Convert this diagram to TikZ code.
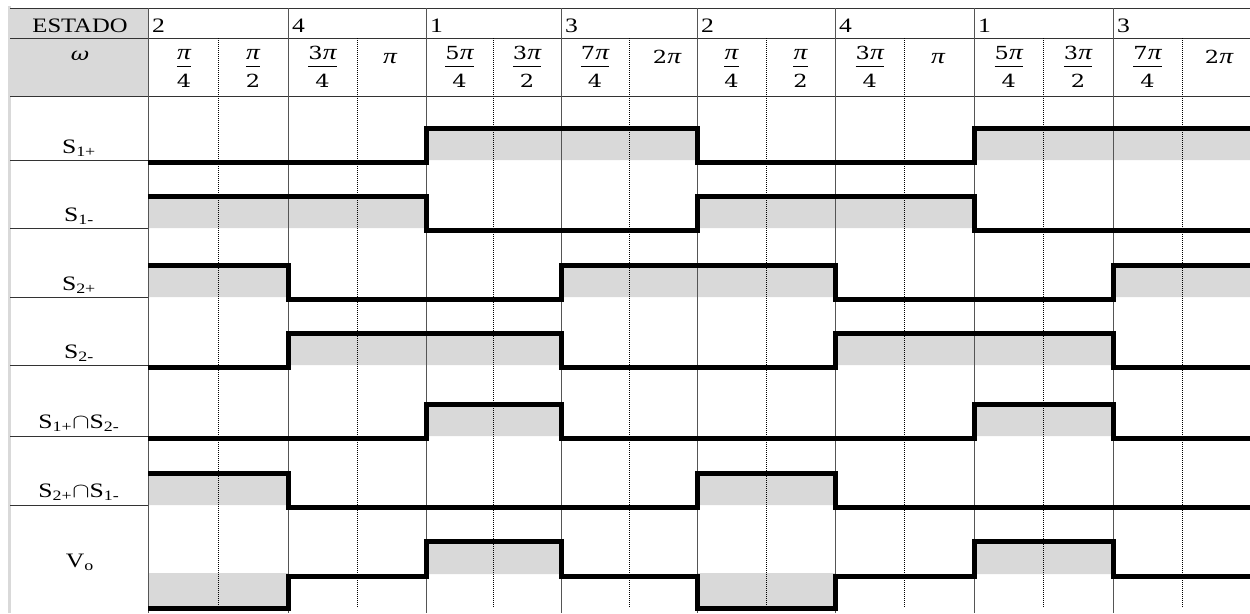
\documentclass[tikz,border=0pt]{standalone}
\usepackage{fontspec}
\setmainfont{Liberation Serif}
\newfontfamily\mf{DejaVu Serif}
\usepackage{graphicx}
\definecolor{shade}{HTML}{D9D9D9}
\definecolor{gridc}{HTML}{555555}
\newcommand\W[1]{\scalebox{1.25}[1]{#1}}
\newcommand\pp{{\rmfamily\itshape\fontsize{22}{24}\selectfont π}}
\newcommand\fr[2]{\W{\fontsize{18}{22}\selectfont$\displaystyle\frac{\mbox{\mf #1}}{\mbox{\mf\rule{0pt}{19pt}#2}}$}}
\tikzset{
  txt/.style={inner sep=0pt, font=\fontsize{20.5}{24}\selectfont},
  mtxt/.style={inner sep=0pt, font=\fontsize{18}{22}\selectfont\mf},
  gridline/.style={gridc, line width=1pt},
  hline/.style={black!80, line width=1pt},
  dotline/.style={black, line width=0.9pt, dash pattern=on 1pt off 1pt},
  sig/.style={black, line width=5pt, line join=miter},
  shaded/.style={fill=shade, draw=none}
}
\begin{document}
\begin{tikzpicture}[x=1pt,y=-1pt]
\useasboundingbox (0,0) rectangle (1250,613);
\clip (0,0) rectangle (1250,613);
\fill[white] (0,0) rectangle (1250,613);
% header shading
\fill[shaded] (10,8) rectangle (148,96);
% signal fills
\fill[shaded] (426,130) rectangle (697,160) (974,130) rectangle (1256,160);
\fill[shaded] (148,198) rectangle (426,228) (697,198) rectangle (974,228);
\fill[shaded] (148,267) rectangle (288,297) (561,267) rectangle (835,297) (1113,267) rectangle (1256,297);
\fill[shaded] (288,335) rectangle (561,365) (835,335) rectangle (1113,365);
\fill[shaded] (426,406) rectangle (561,436) (974,406) rectangle (1113,436);
\fill[shaded] (148,475) rectangle (288,505) (697,475) rectangle (835,505);
\fill[shaded] (426,543) rectangle (561,574) (974,543) rectangle (1113,574);
\fill[shaded] (148,573) rectangle (288,606) (697,573) rectangle (835,606);
% left light border
\draw[black!15, line width=2.5pt] (9.5,6) -- (9.5,613);
% header horizontal lines
\draw[hline] (10,8) -- (1256,8);
\draw[hline] (10,38) -- (1256,38);
\draw[hline] (10,96) -- (1256,96);
% label column row lines
\foreach \yy in {160,228,297,365,436,505} \draw[hline] (10,\yy) -- (148,\yy);
% dotted verticals
\foreach \xx in {218,357,493.5,629,766,904.5,1043.5,1182} \draw[dotline] (\xx,38) -- (\xx,607);
% solid verticals
\foreach \xx in {148,288,426,561,697,835,974,1113,1251} \draw[gridline] (\xx,8) -- (\xx,613);
% signals
\draw[sig] (148,162) -- (426,162) -- (426,128) -- (697,128) -- (697,162) -- (974,162) -- (974,128) -- (1258,128);
\draw[sig] (148,196) -- (426,196) -- (426,230) -- (697,230) -- (697,196) -- (974,196) -- (974,230) -- (1258,230);
\draw[sig] (148,265) -- (288,265) -- (288,299) -- (561,299) -- (561,265) -- (835,265) -- (835,299) -- (1113,299) -- (1113,265) -- (1258,265);
\draw[sig] (148,367) -- (288,367) -- (288,333) -- (561,333) -- (561,367) -- (835,367) -- (835,333) -- (1113,333) -- (1113,367) -- (1258,367);
\draw[sig] (148,438) -- (426,438) -- (426,404) -- (561,404) -- (561,438) -- (974,438) -- (974,404) -- (1113,404) -- (1113,438) -- (1258,438);
\draw[sig] (148,473) -- (288,473) -- (288,507) -- (697,507) -- (697,473) -- (835,473) -- (835,507) -- (1258,507);
\draw[sig] (148,608) -- (288,608) -- (288,576) -- (426,576) -- (426,541) -- (561,541) -- (561,576) -- (697,576) -- (697,608) -- (835,608) -- (835,576) -- (974,576) -- (974,541) -- (1113,541) -- (1113,576) -- (1258,576);
% header texts
\node[txt, anchor=base] (estado) at (80,32) {\scalebox{1.2}[1]{ESTADO}};
\node[mtxt, anchor=base] (omega) at (80,60) {\W{\itshape ω}};
\foreach \s/\xx [count=\i] in {2/148,4/288,1/426,3/561,2/697,4/835,1/974,3/1113}
  \node[txt, anchor=base west] (st\i) at (\xx+4,32) {\W{\s}};
% angle labels
\node[txt, anchor=base] (a1) at (184,71) {\fr{\pp}{4}};
\node[txt, anchor=base] (a2) at (253,71) {\fr{\pp}{2}};
\node[txt, anchor=base] (a3) at (322.5,71) {\fr{3\pp}{4}};
\node[mtxt, anchor=base] (a4) at (390,63) {\W{\pp}};
\node[txt, anchor=base] (a5) at (459.5,71) {\fr{5\pp}{4}};
\node[txt, anchor=base] (a6) at (527,71) {\fr{3\pp}{2}};
\node[txt, anchor=base] (a7) at (595,71) {\fr{7\pp}{4}};
\node[mtxt, anchor=base] (a8) at (667,63) {\W{2\pp}};
\node[txt, anchor=base] (a9) at (731.5,71) {\fr{\pp}{4}};
\node[txt, anchor=base] (a10) at (800.5,71) {\fr{\pp}{2}};
\node[txt, anchor=base] (a11) at (869.75,71) {\fr{3\pp}{4}};
\node[mtxt, anchor=base] (a12) at (938,63) {\W{\pp}};
\node[txt, anchor=base] (a13) at (1008.75,71) {\fr{5\pp}{4}};
\node[txt, anchor=base] (a14) at (1078,71) {\fr{3\pp}{2}};
\node[txt, anchor=base] (a15) at (1147.5,71) {\fr{7\pp}{4}};
\node[mtxt, anchor=base] (a16) at (1219,63) {\W{2\pp}};
% row labels
\node[txt, anchor=base] (l1) at (79,153) {\W{S\textsubscript{1+}}};
\node[txt, anchor=base] (l2) at (79,221) {\W{S\textsubscript{1-}}};
\node[txt, anchor=base] (l3) at (79,290) {\W{S\textsubscript{2+}}};
\node[txt, anchor=base] (l4) at (79,358) {\W{S\textsubscript{2-}}};
\node[txt, anchor=base] (l5) at (79,428) {\W{S\textsubscript{1+}$\cap$S\textsubscript{2-}}};
\node[txt, anchor=base] (l6) at (79,497) {\W{S\textsubscript{2+}$\cap$S\textsubscript{1-}}};
\node[txt, anchor=base] (l7) at (80,567) {\W{V\textsubscript{o}}};
\end{tikzpicture}
\end{document}
